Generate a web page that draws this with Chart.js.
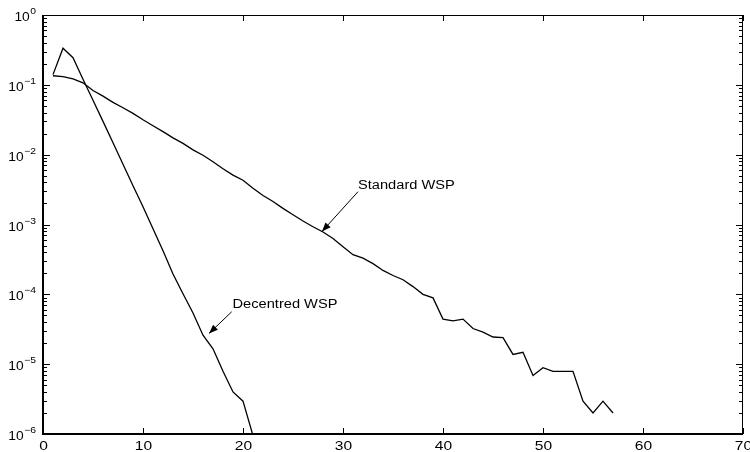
<!DOCTYPE html>
<html>
<head>
<meta charset="utf-8">
<script src="https://cdn.jsdelivr.net/npm/chart.js@4/dist/chart.umd.min.js"></script>
<style>
  html, body { margin: 0; padding: 0; background: #fff; }
  #wrap { width: 750px; height: 452px; }
</style>
</head>
<body>
<div id="wrap"><canvas id="chart" width="750" height="452"></canvas></div>
<script>
// values
const stdX = [1,2,3,4,5,6,7,8,9,10,11,12,13,14,15,16,17,18,19,20,21,22,23,24,25,26,27,28,29,30,
  31,32,33,34,35,36,37,38,39,40,41,42,43,44,45,46,47,48,49,50,51,52,53,54,55,56,57];
const stdY = [0.135,0.131,0.122,0.107,0.083,0.069,0.056,0.047,0.039,0.0316,0.026,0.0214,0.0174,0.0145,
  0.0117,0.0098,0.0079,0.0063,0.0051,0.0043,0.0033,0.0026,0.00214,0.0017,0.00138,0.00112,0.00093,
  0.00078,0.00063,0.00048,0.00037,0.00033,0.000275,0.00022,0.000186,0.000162,0.000129,0.0001,
  0.000089,0.0000442,0.0000417,0.0000442,0.0000324,0.0000288,0.0000245,0.000024,0.0000138,
  0.0000148,0.0000069,0.0000089,0.0000079,0.0000079,0.0000079,0.00000295,0.000002,0.00000295,0.000002];
const decX = [1,2,3,4,5,6,7,8,9,10,11,12,13,14,15,16,17,18,19,20,21];
const decY = [0.14,0.334,0.245,0.12,0.06,0.03,0.0148,0.0073,0.0036,0.0018,0.00087,0.00042,0.000195,
  0.000102,0.000054,0.000026,0.0000166,0.0000079,0.000004,0.00000295,0.00000095];

const xTicks = [0,10,20,30,40,50,60,70];
const yDecades = [-6,-5,-4,-3,-2,-1,0];

// annotation anchors in data units
const notes = [
  { text: 'Standard WSP', tx: 31.5, ty: Math.pow(10,-2.43), ax: 31.5, ay: Math.pow(10,-2.53), hx: 27.9, hy: Math.pow(10,-3.10) },
  { text: 'Decentred WSP', tx: 18.95, ty: Math.pow(10,-4.14), ax: 18.87, ay: Math.pow(10,-4.25), hx: 16.6, hy: Math.pow(10,-4.56) }
];

const FONT = '"Liberation Sans", Arial, Helvetica, sans-serif';

function stretchText(ctx, txt, x, y, size, align, sx) {
  ctx.save();
  ctx.font = size + 'px ' + FONT;
  const w = ctx.measureText(txt).width * sx;
  let left = x;
  if (align === 'center') left = x - w / 2;
  if (align === 'right') left = x - w;
  ctx.translate(left, y);
  ctx.scale(sx, 1);
  ctx.textAlign = 'left';
  ctx.fillText(txt, 0, 0);
  ctx.restore();
  return w;
}

const matlabAxes = {
  id: 'matlabAxes',
  afterDraw(chart) {
    const ctx = chart.ctx;
    const a = chart.chartArea;
    const xs = chart.scales.x, ys = chart.scales.y;
    ctx.save();
    ctx.strokeStyle = '#000';
    ctx.fillStyle = '#000';
    ctx.textBaseline = 'alphabetic';

    // box
    ctx.lineWidth = 1;
    ctx.beginPath();
    ctx.moveTo(a.left, a.top + 0.5); ctx.lineTo(a.right, a.top + 0.5);
    ctx.moveTo(a.right - 0.5, a.top); ctx.lineTo(a.right - 0.5, a.bottom);
    ctx.stroke();
    ctx.lineWidth = 2;
    ctx.beginPath();
    ctx.moveTo(a.left, a.top); ctx.lineTo(a.left, a.bottom);
    ctx.lineTo(a.right, a.bottom);
    ctx.stroke();

    // x ticks
    ctx.lineWidth = 1;
    xTicks.forEach(v => {
      const px = Math.round(xs.getPixelForValue(v)) + 0.5;
      ctx.beginPath();
      ctx.moveTo(px, a.bottom); ctx.lineTo(px, a.bottom - 6);
      ctx.moveTo(px, a.top); ctx.lineTo(px, a.top + 6);
      ctx.stroke();
      stretchText(ctx, String(v), px, a.bottom + 16, 13, 'center', 1.2);
    });

    // y ticks, decades and minors
    yDecades.forEach(d => {
      const py = Math.round(ys.getPixelForValue(Math.pow(10, d))) + 0.5;
      ctx.beginPath();
      ctx.moveTo(a.left, py); ctx.lineTo(a.left + 7, py);
      ctx.moveTo(a.right, py); ctx.lineTo(a.right - 7, py);
      ctx.stroke();
      if (d < 0) {
        for (let m = 2; m <= 9; m++) {
          const my = Math.round(ys.getPixelForValue(m * Math.pow(10, d))) + 0.5;
          ctx.beginPath();
          ctx.moveTo(a.left, my); ctx.lineTo(a.left + 4, my);
          ctx.moveTo(a.right, my); ctx.lineTo(a.right - 4, my);
          ctx.stroke();
        }
      }
      // label 10^d
      const sup = d === 0 ? '0' : '\u2212' + Math.abs(d);
      ctx.font = '9px ' + FONT;
      const sw = ctx.measureText(sup).width * 1.15;
      const supLeft = a.left - 7 - sw;
      stretchText(ctx, sup, supLeft, py - 2, 9, 'left', 1.15);
      stretchText(ctx, '10', supLeft - 0.5, py + 5, 12, 'right', 1.15);
    });

    // annotations with arrows
    ctx.lineWidth = 1;
    notes.forEach(n => {
      const tx = xs.getPixelForValue(n.tx), ty = ys.getPixelForValue(n.ty);
      const ax = xs.getPixelForValue(n.ax), ay = ys.getPixelForValue(n.ay);
      const hx = xs.getPixelForValue(n.hx), hy = ys.getPixelForValue(n.hy);
      stretchText(ctx, n.text, tx, ty + 4, 12, 'left', 1.22);
      ctx.beginPath();
      ctx.moveTo(ax, ay); ctx.lineTo(hx, hy);
      ctx.stroke();
      const ang = Math.atan2(hy - ay, hx - ax);
      const len = 9, half = 3.5;
      const bx = hx - len * Math.cos(ang), by = hy - len * Math.sin(ang);
      ctx.beginPath();
      ctx.moveTo(hx, hy);
      ctx.lineTo(bx + half * Math.sin(ang), by - half * Math.cos(ang));
      ctx.lineTo(bx - half * Math.sin(ang), by + half * Math.cos(ang));
      ctx.closePath();
      ctx.fill();
    });
    ctx.restore();
  }
};

const toPoints = (xsArr, ysArr) => xsArr.map((x, i) => ({ x: x, y: ysArr[i] }));

new Chart(document.getElementById('chart'), {
  type: 'line',
  data: {
    datasets: [
      { label: 'Standard WSP', data: toPoints(stdX, stdY), borderColor: '#000', borderWidth: 1.3,
        pointRadius: 0, tension: 0, fill: false },
      { label: 'Decentred WSP', data: toPoints(decX, decY), borderColor: '#000', borderWidth: 1.3,
        pointRadius: 0, tension: 0, fill: false }
    ]
  },
  options: {
    responsive: false,
    animation: false,
    layout: { padding: { left: 43, top: 15, right: 7, bottom: 18 } },
    plugins: { legend: { display: false }, tooltip: { enabled: false } },
    scales: {
      x: { type: 'linear', min: 0, max: 70, display: false },
      y: { type: 'logarithmic', min: 1e-6, max: 1, display: false }
    }
  },
  plugins: [matlabAxes]
});
</script>
</body>
</html>
